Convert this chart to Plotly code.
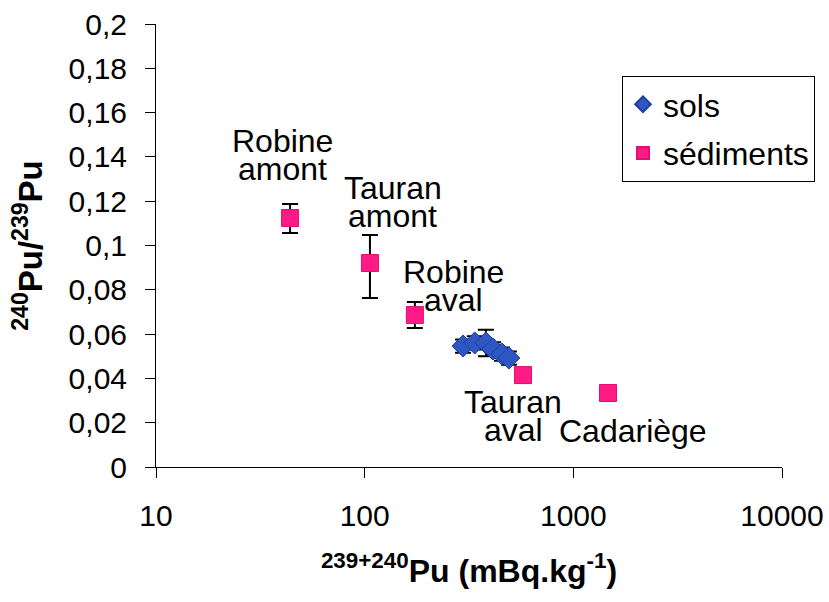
import math
import plotly.graph_objects as go

# --- data ---
sols_x = [296, 337, 381, 412, 455, 491]
sols_y = [0.0546, 0.0560, 0.0560, 0.0533, 0.0510, 0.0492]
sols_err = [0.003, 0.003, 0.006, 0.003, 0.003, 0.003]

sed_labels = [["Robine", "amont"], ["Tauran", "amont"], ["Robine", "aval"],
              ["Tauran", "aval"], ["Cadariège"]]
sed_x = [43.9, 106, 174, 574, 1466]
sed_y = [0.1124, 0.0921, 0.0686, 0.0415, 0.0334]
sed_err_plus = [0.0063, 0.0126, 0.0059, 0.0020, 0.0020]
sed_err_minus = [0.0068, 0.0158, 0.0058, 0.0035, 0.0025]

x_tickvals = [10, 100, 1000, 10000]
x_ticktext = ["10", "100", "1000", "10000"]

FONT = "Liberation Sans, Arial, sans-serif"

fig = go.Figure()

fig.add_trace(go.Scatter(
    x=sols_x, y=sols_y, mode="markers", name="sols", legendgroup="a",
    marker=dict(symbol="diamond", size=17, color="#2F57C4",
                line=dict(color="#1D3FA0", width=1)),
    error_y=dict(type="data", array=sols_err, color="black", thickness=2, width=8),
))
fig.add_trace(go.Scatter(
    x=sed_x, y=sed_y, mode="markers", name="sédiments", legendgroup="b",
    marker=dict(symbol="square", size=17, color="#FF1A85",
                line=dict(color="#E0106F", width=1)),
    error_y=dict(type="data", array=sed_err_plus, arrayminus=sed_err_minus,
                 color="black", thickness=2, width=8),
))

# label placement: (dx of line centre, dy of first line middle) in px from the point
label_offsets = [(-8, -77), (23, -75), (39, -43), (-10, 27), (25, 38)]
LINE_STEP = 28
for lines, xv, yv, (dx, dy) in zip(sed_labels, sed_x, sed_y, label_offsets):
    for i, line in enumerate(lines):
        fig.add_annotation(x=math.log10(xv), y=yv, xref="x", yref="y", text=line,
                           showarrow=False, xanchor="center", yanchor="middle",
                           xshift=dx, yshift=-(dy + i * LINE_STEP),
                           font=dict(family=FONT, size=32, color="black"))

fig.update_layout(
    width=829, height=602,
    margin=dict(l=156, r=47, t=24, b=135),
    paper_bgcolor="white", plot_bgcolor="white",
    separators=", ",
    font=dict(family=FONT, size=30, color="black"),
    showlegend=True,
    legend=dict(x=0.7444, y=0.8826, xanchor="left", yanchor="top",
                bordercolor="black", borderwidth=1, bgcolor="white",
                font=dict(family=FONT, size=32), tracegroupgap=4,
                itemsizing="constant"),
)

fig.update_xaxes(
    type="log", range=[1, 4], tickvals=x_tickvals, ticktext=x_ticktext,
    automargin=False,
    showgrid=False, zeroline=False, showline=True, linecolor="black", linewidth=1,
    ticks="outside", ticklen=10, tickcolor="black", ticklabelstandoff=12,
    tickfont=dict(family=FONT, size=30),
    title=dict(text="<b><sup>239+240</sup>Pu (mBq.kg<sup>-1</sup>)</b>",
               font=dict(family=FONT, size=32), standoff=28),
)
fig.update_yaxes(
    range=[0, 0.2], dtick=0.02, tick0=0, automargin=False,
    showgrid=False, zeroline=False, showline=True, linecolor="black", linewidth=1,
    ticks="outside", ticklen=10, tickcolor="black", ticklabelstandoff=12,
    tickfont=dict(family=FONT, size=30),
    title=dict(text="<b><sup>240</sup>Pu/<sup>239</sup>Pu</b>",
               font=dict(family=FONT, size=33), standoff=16),
)

fig.write_html("out.html")
